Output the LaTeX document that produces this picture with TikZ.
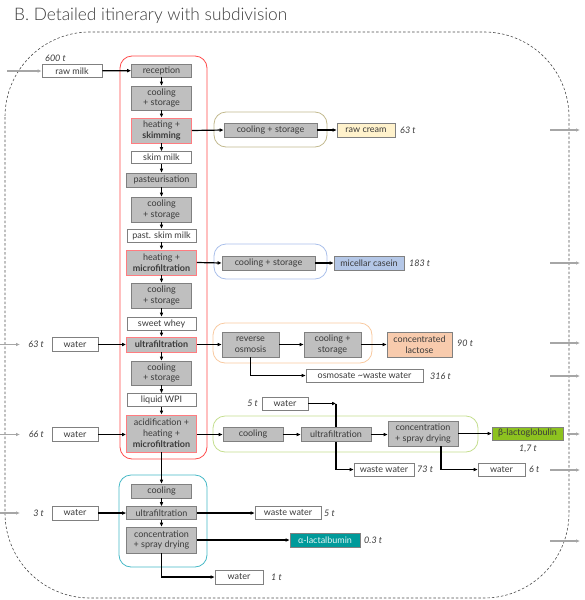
\documentclass[tikz,border=0pt]{standalone}
\usepackage{fontspec}
\setmainfont{Lato}
\newfontfamily\titlefont{Lato Light}
\usetikzlibrary{arrows.meta}
\definecolor{txt}{HTML}{3A3A3A}
\definecolor{boxfill}{HTML}{BFBFBF}
\definecolor{boxline}{HTML}{808080}
\definecolor{hired}{HTML}{FF7C80}
\definecolor{cred}{HTML}{FF4B4B}
\definecolor{ckhaki}{HTML}{C2B98E}
\definecolor{cblue}{HTML}{A9BFEA}
\definecolor{corange}{HTML}{F8C9A0}
\definecolor{cgreen}{HTML}{C4DE8E}
\definecolor{cteal}{HTML}{45B8C6}
\definecolor{fcream}{HTML}{FFF2CC}
\definecolor{fcasein}{HTML}{B4C7E7}
\definecolor{flactose}{HTML}{F8CBAD}
\definecolor{fbeta}{HTML}{8DC21F}
\definecolor{falpha}{HTML}{009A9A}
\definecolor{grayarr}{HTML}{A6A6A6}
\tikzset{
  base/.style={inner sep=0pt,align=center,text=txt,font=\fontsize{9}{10.8}\selectfont},
  gbox/.style={base,draw=boxline,fill=boxfill,line width=0.6pt},
  rbox/.style={base,draw=hired,fill=boxfill,line width=0.7pt},
  wbox/.style={base,draw=boxline,fill=white,line width=0.6pt},
  cbox/.style={base,draw=boxline,line width=0.6pt},
  qty/.style={inner sep=0pt,text=txt,font=\fontsize{9}{10}\selectfont\itshape},
  arr/.style={draw=black,line width=1.2pt,-{Latex[length=4pt,width=3.8pt]}},
  plain/.style={draw=black,line width=1.2pt},
  garr/.style={draw=grayarr,line width=1.2pt,-{Latex[length=4pt,width=3.6pt]}},
  cont/.style={line width=0.8pt,rounded corners=12pt},
}
\begin{document}
\begin{tikzpicture}[x=1pt,y=-1pt]
\useasboundingbox (0,0) rectangle (585,600);
% title
\node[anchor=west,inner sep=0pt,text=txt,font=\titlefont\fontsize{17.3}{19}\selectfont] (title) at (14,16) {B. Detailed itinerary with subdivision};
% outer dashed boundary
\draw[draw=black!70,line width=0.6pt,dash pattern=on 2.5pt off 2pt,rounded corners=85pt] (5,32) rectangle (569,598);
% containers
\draw[cont,draw=cred] (120,56) rectangle (207,459);
\draw[cont,draw=cteal] (119,475) rectangle (207,567);
\draw[cont,draw=ckhaki] (214,112) rectangle (327,147);
\draw[cont,draw=cblue] (214,244) rectangle (327,279);
\draw[cont,draw=corange] (213,323) rectangle (372,363);
\draw[cont,draw=cgreen] (213,416) rectangle (478,452);
% main chain
\node[wbox,minimum width=60pt,minimum height=13pt] (rawmilk) at (72,71) {raw milk};
\node[qty,anchor=west] (q600) at (45,58) {600 t};
\node[gbox,minimum width=60pt,minimum height=13pt] (rec) at (161.5,70.5) {reception};
\node[gbox,minimum width=60pt,minimum height=24pt] (cs1) at (161.5,98) {cooling\\+ storage};
\node[rbox,minimum width=60pt,minimum height=25pt] (hs) at (161.5,130.5) {heating +\\\textbf{skimming}};
\node[wbox,minimum width=60pt,minimum height=12pt] (skim) at (161.5,157.5) {skim milk};
\node[gbox,minimum width=70pt,minimum height=14pt] (past) at (161.5,180) {pasteurisation};
\node[gbox,minimum width=60pt,minimum height=25pt] (cs2) at (161.5,209.5) {cooling\\+ storage};
\node[wbox,minimum width=69pt,minimum height=13pt] (pskim) at (161.5,235.5) {past. skim milk};
\node[rbox,minimum width=70pt,minimum height=25pt] (hmf) at (161.5,262.5) {heating +\\\textbf{microfiltration}};
\node[gbox,minimum width=60pt,minimum height=25pt] (cs3) at (161.5,295.5) {cooling\\+ storage};
\node[wbox,minimum width=69pt,minimum height=13pt] (sweet) at (161.5,323.5) {sweet whey};
\node[rbox,minimum width=70pt,minimum height=15pt] (uf1) at (161.5,344.5) {\textbf{ultrafiltration}};
\node[gbox,minimum width=60pt,minimum height=24pt] (cs4) at (161.5,373) {cooling\\+ storage};
\node[wbox,minimum width=69pt,minimum height=13pt] (wpi) at (161.5,400) {liquid WPI};
\node[rbox,minimum width=70pt,minimum height=37pt,font=\fontsize{9}{11}\selectfont] (acid) at (161.5,433.5) {acidification +\\heating +\\\textbf{microfiltration}};
\node[gbox,minimum width=60pt,minimum height=14pt] (tcool) at (161.5,491) {cooling};
\node[gbox,minimum width=70pt,minimum height=13pt] (uf2) at (161.5,513) {ultrafiltration};
\node[gbox,minimum width=70pt,minimum height=26pt] (conc2) at (161.5,540) {concentration\\+ spray drying};
% left waters
\node[wbox,minimum width=46pt,minimum height=14pt] (w63) at (75,344.5) {water};
\node[qty,anchor=east] (q63) at (44,344.5) {63 t};
\node[wbox,minimum width=46pt,minimum height=14pt] (w66) at (75,434.5) {water};
\node[qty,anchor=east] (q66) at (44,434.5) {66 t};
\node[wbox,minimum width=46pt,minimum height=14pt] (w3) at (75,513) {water};
\node[qty,anchor=east] (q3) at (44,513) {3 t};
% cream branch
\node[gbox,minimum width=93pt,minimum height=14pt] (ks) at (270.5,130) {cooling + storage};
\node[cbox,fill=fcream,minimum width=58pt,minimum height=14pt] (cream) at (366,130) {raw cream};
\node[qty,anchor=west] (q63b) at (400,130) {63 t};
% casein branch
\node[gbox,minimum width=93pt,minimum height=14pt] (bs) at (268.5,263) {cooling + storage};
\node[cbox,fill=fcasein,minimum width=70pt,minimum height=14pt] (casein) at (369,263) {micellar casein};
\node[qty,anchor=west] (q183) at (409,263) {183 t};
% lactose branch
\node[gbox,minimum width=57pt,minimum height=25pt] (ro) at (250.5,344.5) {reverse\\osmosis};
\node[gbox,minimum width=57pt,minimum height=25pt] (cs5) at (332.5,344.5) {cooling +\\storage};
\node[cbox,fill=flactose,minimum width=65pt,minimum height=25pt] (lact) at (419.5,344.5) {concentrated\\lactose};
\node[qty,anchor=west] (q90) at (457,343) {90 t};
\node[wbox,minimum width=117pt,minimum height=13pt] (osm) at (364.5,375.5) {osmosate \textasciitilde waste water};
\node[qty,anchor=west] (q316) at (430,376) {316 t};
% beta branch
\node[wbox,minimum width=46pt,minimum height=13pt] (w5) at (285,403.5) {water};
\node[qty,anchor=east] (q5) at (258,403.5) {5 t};
\node[gbox,minimum width=60pt,minimum height=14pt] (gcool) at (253,434.5) {cooling};
\node[gbox,minimum width=70pt,minimum height=14pt] (guf) at (336,434.5) {ultrafiltration};
\node[gbox,minimum width=70pt,minimum height=25pt] (gconc) at (423,433.5) {concentration\\+ spray drying};
\node[cbox,fill=fbeta,minimum width=71pt,minimum height=13pt] (beta) at (527.5,433.5) {β-lactoglobulin};
\node[qty] (q17) at (528,449) {1,7 t};
\node[wbox,minimum width=60pt,minimum height=13pt] (w73) at (384,469.5) {waste water};
\node[qty,anchor=west] (q73) at (417,469.5) {73 t};
\node[wbox,minimum width=47pt,minimum height=13pt] (w6) at (501.5,469.5) {water};
\node[qty,anchor=west] (q6) at (529,469.5) {6 t};
% alpha branch
\node[wbox,minimum width=66pt,minimum height=13pt] (ww5) at (288,513) {waste water};
\node[qty,anchor=west] (q5b) at (324,513) {5 t};
\node[cbox,fill=falpha,text=white!90!falpha,minimum width=70pt,minimum height=14pt] (alpha) at (325,540) {α-lactalbumin};
\node[qty,anchor=west] (q03) at (364,540) {0.3 t};
\node[wbox,minimum width=48pt,minimum height=14pt] (w1) at (239,577) {water};
\node[qty,anchor=west] (q1) at (271,577) {1 t};
% chain arrows
\foreach \a/\b in {rec/cs1,cs1/hs,hs/skim,skim/past,past/cs2,cs2/pskim,pskim/hmf,hmf/cs3,cs3/sweet,sweet/uf1,uf1/cs4,cs4/wpi,wpi/acid,acid/tcool,tcool/uf2,uf2/conc2}
  \draw[arr] (\a) -- (\b);
\draw[arr] (rawmilk) -- (rec);
\draw[arr] (hs.east) -- (ks.west);
\draw[arr] (ks) -- (cream);
\draw[arr] (hmf.east) -- (bs.west);
\draw[arr] (bs) -- (casein);
\draw[arr] (w63) -- (uf1);
\draw[arr] (uf1) -- (ro);
\draw[arr] (ro) -- (cs5);
\draw[arr] (cs5) -- (lact);
\draw[arr] (ro.south) |- (osm.west);
\draw[arr] (w66.east) -- (w66.east -| acid.west);
\draw[arr] (gcool.west -| acid.east) -- (gcool.west);
\draw[arr] (gcool) -- (guf);
\draw[arr] (guf.east) -- (guf.east -| gconc.west);
\draw[arr] (gconc.east |- beta.west) -- (beta.west);
\coordinate (c5) at (guf.north |- w5.east);
\draw[arr] (w5.east) -- (c5);
\draw[plain] (c5) -- (guf.north);
\draw[arr] (guf.south) |- (w73.west);
\coordinate (c6) at ([xshift=18pt]gconc.south);
\draw[arr] (c6) |- (w6.west);
\draw[arr] (w3.east) -- (w3.east -| uf2.west);
\draw[arr] (uf2.east) -- (uf2.east -| ww5.west);
\draw[arr] (conc2.east |- alpha.west) -- (alpha.west);
\draw[arr] (conc2.south) |- (w1.west);
% gray boundary arrows
\coordinate (lin0) at (7,71);
\draw[garr] (lin0) -- (rawmilk.west);
\foreach \y/\n in {344.5/a,434.5/b,513/c}{
  \coordinate (lin\n) at (0,\y);
  \coordinate (lout\n) at (20,\y);
  \draw[garr] (lin\n) -- (lout\n);
}
\foreach \y/\n in {130/a,263/b,343/c,376/d,470/f,541/g}{
  \coordinate (rin\n) at (550,\y);
  \coordinate (rout\n) at (580,\y);
  \draw[garr] (rin\n) -- (rout\n);
}
\coordinate (rine) at (567,434);
\coordinate (route) at (580,434);
\draw[garr] (rine) -- (route);
\end{tikzpicture}
\end{document}
